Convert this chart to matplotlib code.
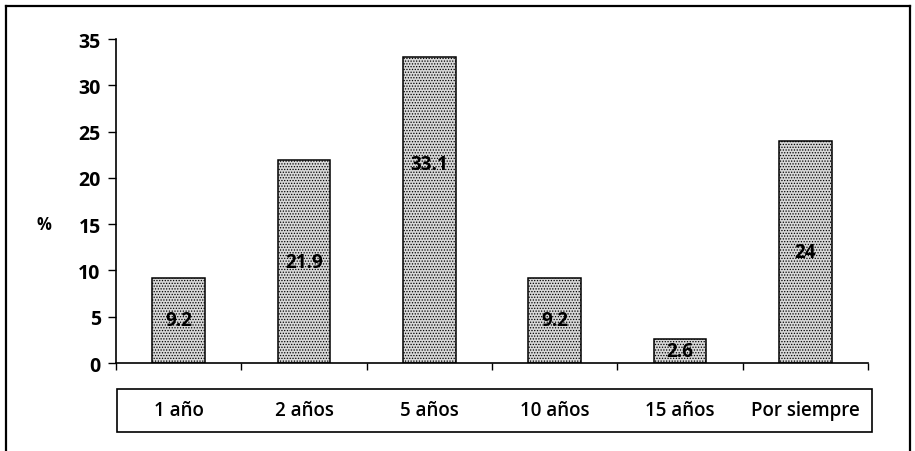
import matplotlib
matplotlib.use("Agg")
import matplotlib.pyplot as plt
import matplotlib.transforms as mtransforms
from matplotlib.patches import Rectangle
from matplotlib.lines import Line2D

# data
categories = ["1 año", "2 años", "5 años", "10 años", "15 años", "Por siempre"]
values = [9.2, 21.9, 33.1, 9.2, 2.6, 24]
value_labels = ["9.2", "21.9", "33.1", "9.2", "2.6", "24"]
yticks = [0, 5, 10, 15, 20, 25, 30, 35]

plt.rcParams['font.family'] = ['Open Sans', 'DejaVu Sans']
plt.rcParams['hatch.color'] = '#5a5a5a'
plt.rcParams['hatch.linewidth'] = 0.6

W, H = 915, 452
fig = plt.figure(figsize=(W / 100, H / 100), dpi=100)

# outer frame (left, top, right)
ft = fig.transFigure
fig.add_artist(Line2D([6 / W, 6 / W], [0, 1 - 7 / H], color='black', lw=1.6, transform=ft))
fig.add_artist(Line2D([6 / W, 910 / W], [1 - 7 / H, 1 - 7 / H], color='black', lw=1.6, transform=ft))
fig.add_artist(Line2D([910 / W, 910 / W], [0, 1 - 7 / H], color='black', lw=1.6, transform=ft))

ax = fig.add_axes([116 / W, 1 - 364 / H, (868 - 116) / W, (364 - 40) / H])

n = len(categories)
x = list(range(n))
ax.bar(x, values, width=0.42, color='#d8d8d8', edgecolor='black', linewidth=1.1, hatch='......')

# value labels, centred in the bar (33.1 sits higher in the original)
label_pos = [v / 2 for v in values]
label_pos[2] = 21.5
for xi, yp, lab in zip(x, label_pos, value_labels):
    ax.text(xi, yp, lab, ha='center', va='center', fontsize=13.5, fontweight='bold', color='black')

ax.set_xlim(-0.5, n - 0.5)
ax.set_ylim(0, 35)
ax.set_yticks(yticks)
ax.set_yticklabels([str(t) for t in yticks], fontsize=14, fontweight='bold')
ax.set_xticks([i - 0.5 for i in range(n + 1)])
ax.set_xticklabels([])
ax.tick_params(axis='y', direction='out', length=6, width=1, pad=5)
ax.tick_params(axis='x', direction='out', length=5, width=1)
for s in ['top', 'right']:
    ax.spines[s].set_visible(False)
for s in ['left', 'bottom']:
    ax.spines[s].set_linewidth(1.2)

ax.text(-0.096, 15, "%", transform=ax.get_yaxis_transform(), ha='center', va='center',
        fontsize=12, fontweight='bold')

# category label box
fig.add_artist(Rectangle((117 / W, 1 - 433 / H), (872 - 117) / W, (433 - 390) / H,
                         fill=False, edgecolor='black', lw=1.2, transform=ft))
cat_tr = mtransforms.blended_transform_factory(ax.transData, ft)
for xi, cat in zip(x, categories):
    ax.text(xi, 1 - 411 / H, cat, transform=cat_tr, ha='center', va='center',
            fontsize=13.5, fontweight='semibold')

fig.savefig("out.png", dpi=100)
